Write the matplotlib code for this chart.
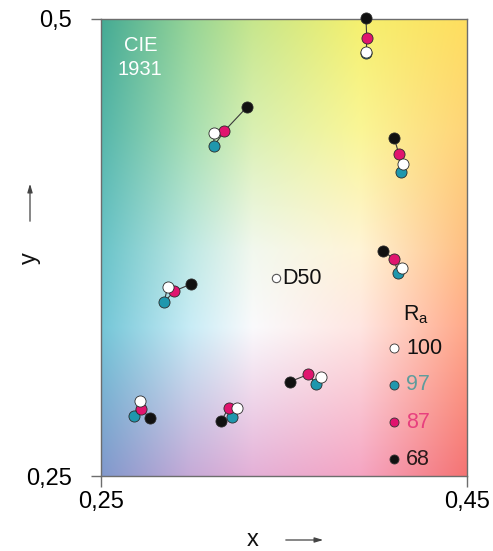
import numpy as np
import matplotlib
matplotlib.use("Agg")
import matplotlib.pyplot as plt

plt.rcParams['font.family'] = ['Liberation Sans', 'DejaVu Sans']

# ---- data (CIE 1931 x, y) ----
groups = ["g1", "g2", "g3", "g4", "g5", "g6", "g7", "g8"]
ra_levels = [100, 97, 87, 68]
# each list: chromaticity per group for one Ra level
x_100 = [0.3950, 0.3117, 0.4152, 0.4143, 0.2864, 0.3702, 0.2713, 0.3241]
y_100 = [0.4821, 0.4378, 0.4205, 0.3639, 0.3532, 0.3040, 0.2912, 0.2870]
x_97 = [0.3950, 0.3117, 0.4139, 0.4121, 0.2844, 0.3675, 0.2680, 0.3214]
y_97 = [0.4815, 0.4305, 0.4165, 0.3612, 0.3450, 0.3003, 0.2830, 0.2824]
x_87 = [0.3952, 0.3174, 0.4128, 0.4103, 0.2901, 0.3633, 0.2717, 0.3199]
y_87 = [0.4898, 0.4387, 0.4260, 0.3685, 0.3512, 0.3056, 0.2865, 0.2874]
x_68 = [0.3948, 0.3299, 0.4103, 0.4043, 0.2990, 0.3533, 0.2768, 0.3156]
y_68 = [0.5005, 0.4520, 0.4347, 0.3731, 0.3549, 0.3016, 0.2819, 0.2801]
d50_xy = (0.3455, 0.3581)

x_ticks = [0.25, 0.45]
x_ticklabels = ["0,25", "0,45"]
y_ticks = [0.25, 0.5]
y_ticklabels = ["0,25", "0,5"]

colors = {100: "#ffffff", 97: "#1f97ad", 87: "#e0146e", 68: "#111111"}
text_colors = {100: "#111111", 97: "#5f9c9c", 87: "#e8407e", 68: "#2a1a1a"}

W, H = 493, 551
fig = plt.figure(figsize=(W / 100, H / 100), dpi=100)
L, R, T, B = 101, 467, 19, 476
ax = fig.add_axes([L / W, 1 - B / H, (R - L) / W, (B - T) / H])

# ---- background gradient ----
colpos = np.array([101, 190, 253, 360, 467], float)
rowpos = np.array([19, 130, 250, 327, 476], float)
grid = np.array([
    [(68, 170, 148), (150, 212, 150), (198, 230, 140), (245, 240, 110), (255, 222, 95)],
    [(85, 182, 170), (165, 222, 178), (218, 240, 178), (250, 246, 150), (255, 212, 120)],
    [(105, 195, 200), (190, 232, 228), (242, 248, 238), (255, 244, 215), (255, 190, 130)],
    [(115, 198, 215), (200, 236, 246), (250, 250, 252), (255, 230, 226), (255, 168, 136)],
    [(128, 152, 204), (198, 170, 215), (228, 176, 215), (245, 165, 195), (245, 115, 115)],
], float) / 255.0
xs = np.arange(L, R) + 0.5
ys = np.arange(T, B) + 0.5
tmp = np.zeros((len(rowpos), len(xs), 3))
for r in range(len(rowpos)):
    for c in range(3):
        tmp[r, :, c] = np.interp(xs, colpos, grid[r, :, c])
img = np.zeros((len(ys), len(xs), 3))
for j in range(len(xs)):
    for c in range(3):
        img[:, j, c] = np.interp(ys, rowpos, tmp[:, j, c])
ax.imshow(np.clip(img, 0, 1), extent=(0.25, 0.45, 0.25, 0.5), origin="upper",
          aspect="auto", interpolation="bilinear", zorder=0)

ax.set_xlim(0.25, 0.45)
ax.set_ylim(0.25, 0.5)

# ---- data marks ----
series = {100: (x_100, y_100), 97: (x_97, y_97), 87: (x_87, y_87), 68: (x_68, y_68)}
for i in range(len(groups)):
    gx = [series[k][0][i] for k in ra_levels]
    gy = [series[k][1][i] for k in ra_levels]
    ax.plot(gx, gy, color="#3a3a3a", lw=0.8, zorder=2, clip_on=False)
for k in [97, 87, 100, 68]:
    ax.plot(series[k][0], series[k][1], "o", ms=8, mfc=colors[k], mec="#2b2b2b",
            mew=0.6, ls="none", zorder=3, clip_on=False)

ax.plot([d50_xy[0]], [d50_xy[1]], "o", ms=6, mfc="white", mec="#555555", mew=0.8, zorder=3)
ax.text(d50_xy[0] + 0.0035, d50_xy[1], "D50", fontsize=15.5, va="center", ha="left",
        color="#111111", zorder=4)

ax.text(0.2715, 0.4790, "CIE\n1931", fontsize=14.5, color="white", ha="center", va="center",
        linespacing=1.3, zorder=4)

# ---- Ra legend ----
leg_x = 0.4103
leg_y = [0.3199, 0.2998, 0.2794, 0.2591]
ax.text(0.4222, 0.3381, r"R$_\mathregular{a}$", fontsize=15.5, ha="center", va="center",
        color="#111111", zorder=4)
for k, ly in zip(ra_levels, leg_y):
    ax.plot([leg_x], [ly], "o", ms=6.5, mfc=colors[k], mec="#333333", mew=0.6, zorder=4)
    ax.text(leg_x + 0.0065, ly, str(k), fontsize=15.5, ha="left", va="center",
            color=text_colors[k], zorder=4)

# ---- axes styling ----
for s in ax.spines.values():
    s.set_color("#6d6d6d")
    s.set_linewidth(1.0)
ax.set_xticks(x_ticks)
ax.set_xticklabels(x_ticklabels, fontsize=17)
ax.set_yticks(y_ticks)
ax.set_yticklabels(y_ticklabels, fontsize=17)
ax.tick_params(axis="x", direction="out", length=8, width=1, color="#6d6d6d", pad=3)
ax.tick_params(axis="y", direction="out", length=7, width=1, color="#6d6d6d", pad=14)

# axis labels with arrows
fig.text(253 / W, 1 - 540 / H, "x", fontsize=17, ha="center", va="center", color="#111111")
ax.annotate("", xy=(326, H - 540), xytext=(283, H - 540), xycoords="figure pixels",
            textcoords="figure pixels",
            arrowprops=dict(arrowstyle="-|>,head_length=0.5,head_width=0.15", color="#444444", lw=0.9))
fig.text(30 / W, 1 - 258 / H, "y", fontsize=17, ha="center", va="center", rotation=90,
         color="#111111")
ax.annotate("", xy=(30, H - 181), xytext=(30, H - 224), xycoords="figure pixels",
            textcoords="figure pixels",
            arrowprops=dict(arrowstyle="-|>,head_length=0.5,head_width=0.15", color="#444444", lw=0.9))

fig.savefig("out.png", dpi=100)
